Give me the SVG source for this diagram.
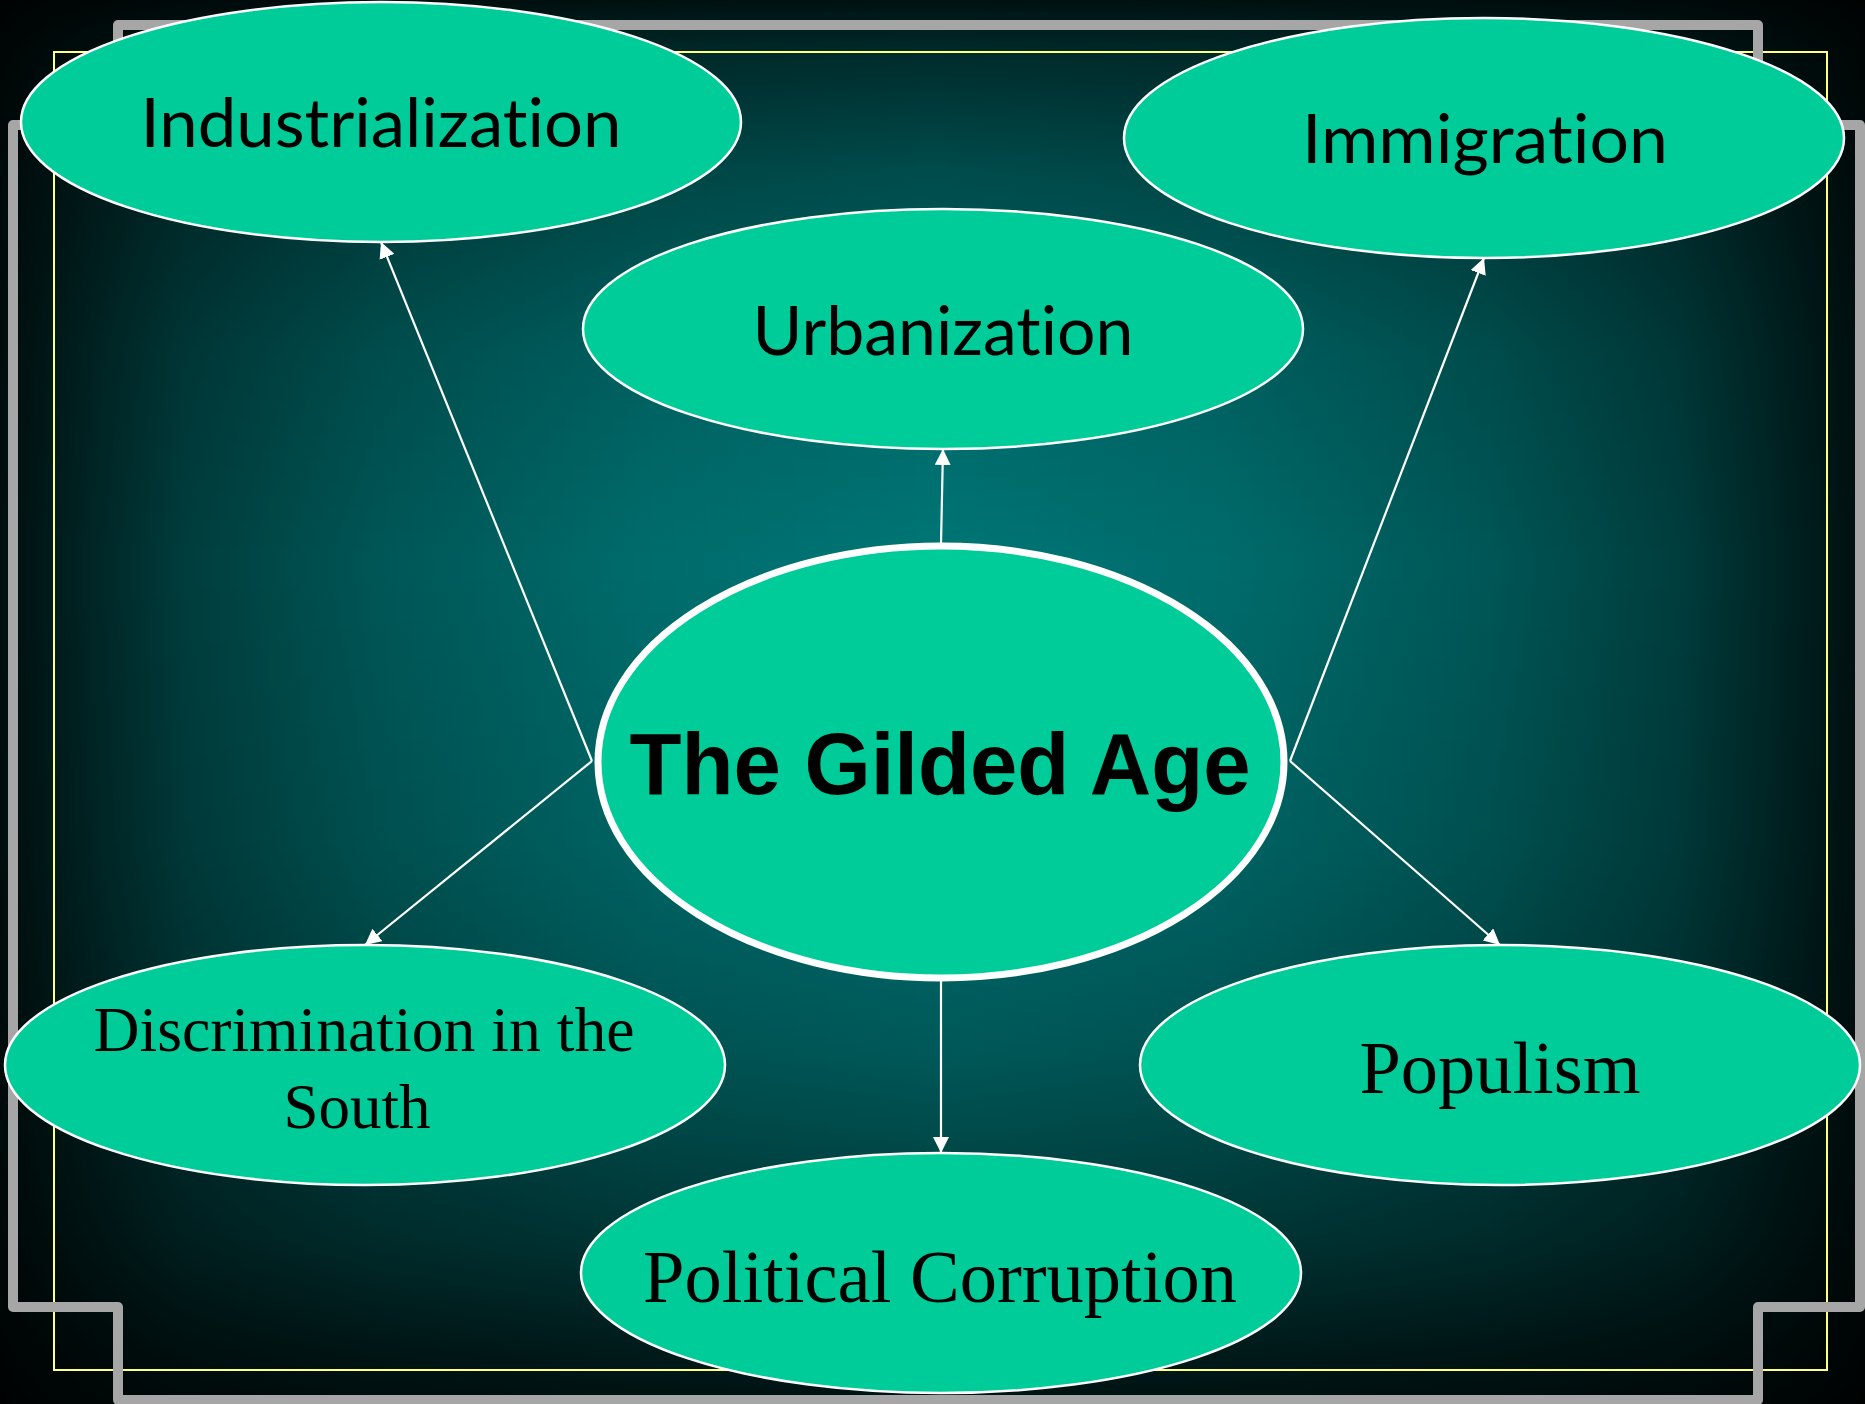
<svg xmlns="http://www.w3.org/2000/svg" width="1865" height="1404" viewBox="0 0 1865 1404">
  <defs>
    <linearGradient id="gx" x1="0" y1="0" x2="1865" y2="0" gradientUnits="userSpaceOnUse">
      <stop offset="0" stop-color="#000" stop-opacity="0.88"/>
      <stop offset="0.04" stop-color="#000" stop-opacity="0.72"/>
      <stop offset="0.1" stop-color="#000" stop-opacity="0.48"/>
      <stop offset="0.2" stop-color="#000" stop-opacity="0.27"/>
      <stop offset="0.35" stop-color="#000" stop-opacity="0.08"/>
      <stop offset="0.5" stop-color="#000" stop-opacity="0"/>
      <stop offset="0.65" stop-color="#000" stop-opacity="0.08"/>
      <stop offset="0.8" stop-color="#000" stop-opacity="0.27"/>
      <stop offset="0.9" stop-color="#000" stop-opacity="0.48"/>
      <stop offset="0.96" stop-color="#000" stop-opacity="0.72"/>
      <stop offset="1" stop-color="#000" stop-opacity="0.88"/>
    </linearGradient>
    <linearGradient id="gy" x1="0" y1="0" x2="0" y2="1404" gradientUnits="userSpaceOnUse">
      <stop offset="0" stop-color="#000" stop-opacity="0.85"/>
      <stop offset="0.04" stop-color="#000" stop-opacity="0.62"/>
      <stop offset="0.12" stop-color="#000" stop-opacity="0.36"/>
      <stop offset="0.25" stop-color="#000" stop-opacity="0.12"/>
      <stop offset="0.4" stop-color="#000" stop-opacity="0"/>
      <stop offset="0.6" stop-color="#000" stop-opacity="0.08"/>
      <stop offset="0.75" stop-color="#000" stop-opacity="0.25"/>
      <stop offset="0.88" stop-color="#000" stop-opacity="0.5"/>
      <stop offset="0.96" stop-color="#000" stop-opacity="0.75"/>
      <stop offset="1" stop-color="#000" stop-opacity="0.85"/>
    </linearGradient>
    <marker id="arr" markerUnits="userSpaceOnUse" markerWidth="16" markerHeight="16" viewBox="0 0 16 16" refX="16" refY="8" orient="auto">
      <path d="M0,0 L16,8 L0,16 Z" fill="#fff"/>
    </marker>
  </defs>
  <style>
    .node { fill: #00CC99; stroke: #fff; stroke-width: 2.5; }
    .sans { font-family: Lato, "Open Sans", "Liberation Sans", sans-serif; font-size: 67px; fill: #000; text-anchor: middle; font-variant-ligatures: none; }
    .serif { font-family: "Liberation Serif", "Times New Roman", serif; fill: #000; text-anchor: middle; }
    .conn { stroke: #fff; stroke-width: 2.2; fill: none; marker-end: url(#arr); }
  </style>

  <!-- background -->
  <rect x="0" y="0" width="1865" height="1404" fill="#007575"/>
  <rect x="0" y="0" width="1865" height="1404" fill="url(#gx)"/>
  <rect x="0" y="0" width="1865" height="1404" fill="url(#gy)"/>

  <!-- frames -->
  <rect x="54" y="52" width="1773" height="1318" fill="none" stroke="#FFFF80" stroke-width="2"/>
  <path d="M118,25 H1758 V125 H1860 V1307 H1758 V1400 H118 V1307 H13 V125 H118 Z" fill="none" stroke="#A6A6A6" stroke-width="10" stroke-linejoin="round"/>

  <!-- connectors -->
  <g id="connectors">
    <line class="conn" x1="592" y1="761" x2="381" y2="242"/>
    <line class="conn" x1="941" y1="544" x2="943" y2="449"/>
    <line class="conn" x1="1290" y1="761" x2="1484" y2="258"/>
    <line class="conn" x1="592" y1="761" x2="365" y2="945"/>
    <line class="conn" x1="1290" y1="761" x2="1500" y2="945"/>
    <line class="conn" x1="941" y1="981" x2="941" y2="1153"/>
  </g>

  <!-- nodes -->
  <g id="industrialization">
    <ellipse class="node" cx="381" cy="122" rx="360" ry="120"/>
    <text class="sans" x="381" y="147" textLength="481" lengthAdjust="spacingAndGlyphs">Industrialization</text>
  </g>
  <g id="immigration">
    <ellipse class="node" cx="1484" cy="138" rx="360" ry="120"/>
    <text class="sans" x="1485" y="163" textLength="366" lengthAdjust="spacingAndGlyphs">Immigration</text>
  </g>
  <g id="urbanization">
    <ellipse class="node" cx="943" cy="329" rx="360" ry="120"/>
    <text class="sans" x="943" y="355" textLength="381" lengthAdjust="spacingAndGlyphs">Urbanization</text>
  </g>
  <g id="gilded-age">
    <ellipse cx="941" cy="762" rx="343" ry="216" fill="#00CC99" stroke="#fff" stroke-width="7"/>
    <text x="940" y="794" font-family="'Liberation Sans', Arial, sans-serif" font-weight="bold" font-size="87" text-anchor="middle" fill="#000" textLength="621" lengthAdjust="spacingAndGlyphs">The Gilded Age</text>
  </g>
  <g id="discrimination">
    <ellipse class="node" cx="365" cy="1065" rx="360" ry="120"/>
    <text class="serif" font-size="64" x="364" y="1051" textLength="541" lengthAdjust="spacingAndGlyphs">Discrimination in the</text>
    <text class="serif" font-size="64" x="357" y="1128" textLength="147" lengthAdjust="spacingAndGlyphs">South</text>
  </g>
  <g id="populism">
    <ellipse class="node" cx="1500" cy="1065" rx="360" ry="120"/>
    <text class="serif" font-size="74" x="1500" y="1093" textLength="281" lengthAdjust="spacingAndGlyphs">Populism</text>
  </g>
  <g id="political-corruption">
    <ellipse class="node" cx="941" cy="1273" rx="360" ry="120"/>
    <text class="serif" font-size="73" x="940" y="1302" textLength="594" lengthAdjust="spacingAndGlyphs">Political Corruption</text>
  </g>
</svg>
